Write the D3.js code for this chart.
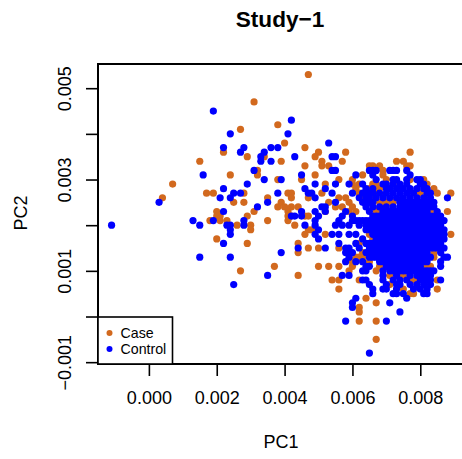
<!DOCTYPE html>
<html>
<head>
<meta charset="utf-8">
<script src="https://cdn.jsdelivr.net/npm/d3@7"></script>
<style>
  html, body { margin: 0; background: #fff; overflow: hidden; }
  text { font-family: "Liberation Sans", Arial, sans-serif; fill: #000; }
</style>
</head>
<body>
<div id="chart"></div>
<script>
// PC scores, [PC1, PC2]
const casePoints = [
  [.0047,.0053],[.0031,.0047],[.0038,.0042],[.0027,.0041],[.0022,.0036],[.0029,.0035],[.0015,.0034],[.0034,.0035],
  [.0039,.0034],[.0032,.0032],[.0032,.0031],[.0024,.0031],[.0007,.0029],[.0038,.0030],[.0017,.0027],[.0019,.0027],
  [.0028,.0027],[.0004,.0026],[.0025,.0025],[.0028,.0025],[.0035,.0026],[.0038,.0024],[.0020,.0023],[.0031,.0023],
  [.0020,.0022],[.0021,.0022],[.0029,.0022],[.0018,.0021],[.0021,.0021],[.0023,.0021],[.0035,.0021],[.0026,.0020],
  [.0030,.0020],[.0030,.0019],[.0020,.0017],[.0029,.0016],[.0027,.0010],[.0037,.0011],[.0040,.0038],[.0041,.0027],
  [.0039,.0025],[.0040,.0024],[.0041,.0023],[.0041,.0021],
  [.0046,.0037],[.0050,.0036],[.0049,.0035],[.0058,.0036],[.0051,.0034],[.0051,.0033],[.0053,.0033],[.0057,.0034],
  [.0046,.0033],[.0049,.0031],[.0045,.0030],[.0056,.0030],[.0052,.0029],[.0042,.0027],[.0042,.0026],[.0051,.0027],
  [.0047,.0026],[.0042,.0024],[.0044,.0024],[.0041,.0022],[.0042,.0022],[.0046,.0022],[.0047,.0022],[.0043,.0020],
  [.0047,.0019],[.0048,.0019],[.0053,.0025],[.0056,.0026],[.0058,.0026],[.0059,.0025],[.0055,.0024],[.0057,.0024],
  [.0052,.0023],[.0060,.0030],[.0060,.0029],[.0062,.0029],[.0061,.0028],[.0062,.0027],[.0063,.0026],[.0063,.0031],
  [.0065,.0033],[.0066,.0033],[.0068,.0033],[.0069,.0032],[.0069,.0031],[.0070,.0030],[.0072,.0029],[.0073,.0034],
  [.0075,.0034],[.0076,.0033],[.0077,.0033],[.0077,.0036],[.0081,.0030],[.0082,.0029],[.0084,.0028],[.0085,.0027],
  [.0089,.0027],[.0088,.0023],[.0089,.0018],[.0083,.0023],[.0067,.0023],[.0068,.0023],[.0068,.0028],[.0077,.0030],
  [.0080,.0027],[.0068,.0025],[.0069,.0025],[.0070,.0025],[.0071,.0025],[.0072,.0025],[.0066,.0017],[.0064,.0025],
  [.0060,.0024],[.0061,.0023],[.0059,.0023],[.0083,.0018],
  [.0046,.0018],[.0044,.0016],[.0044,.0014],[.0047,.0015],[.0050,.0015],[.0050,.0011],[.0053,.0011],[.0056,.0011],
  [.0044,.0009],[.0054,.0008],[.0056,.0008],[.0056,.0006],[.0059,.0010],[.0062,.0008],[.0064,.0004],[.0067,.0003],
  [.0062,.0002],[.0062,.0001],[.0062,-.0001],[.0067,-.0001],[.0067,-.0005],[.0085,.0006],[.0085,.0008],[.0077,.0005],
  [.0060,.0012],[.0060,.0011],[.0061,.0013],[.0062,.0013],[.0052,.0018],[.0056,.0015],[.0084,.0013],[.0084,.0014],
  [.0068,.0011],[.0067,.0010],[.0071,.0009],[.0071,.0007],[.0075,.0009],[.0078,.0008],[.0075,.0006],[.0078,.0005],
  [.0081,.0011],[.0082,.0011],[.0083,.0011],[.0062,.0016],[.0063,.0014],[.0063,.0013],[.0065,.0012],[.0065,.0018],
  [.0066,.0021],[.0067,.0027],[.0066,.0026],[.0065,.0028],[.0066,.0029],[.0067,.0029],
  [.0070,.0020],[.0072,.0015],[.0075,.0018],[.0078,.0022],[.0080,.0014],[.0074,.0012],[.0079,.0019]
];

const controlPoints = [
  [-.0011,.0020],[.0003,.0025],[.0013,.0021],[.0015,.0020],[.0015,.0013],[.0016,.0031],[.0019,.0045],[.0019,.0021],
  [.0021,.0026],[.0022,.0037],[.0022,.0028],[.0022,.0023],[.0022,.0016],[.0023,.0020],[.0024,.0040],[.0024,.0026],
  [.0024,.0020],[.0024,.0019],[.0024,.0018],[.0024,.0013],[.0025,.0027],[.0027,.0036],[.0027,.0027],[.0028,.0037],
  [.0028,.0021],[.0028,.0020],[.0029,.0029],[.0031,.0032],[.0032,.0024],[.0033,.0035],[.0033,.0034],[.0034,.0036],
  [.0034,.0030],[.0035,.0025],[.0035,.0009],[.0025,.0007],[.0036,.0037],[.0036,.0034],[.0038,.0037],[.0038,.0027],
  [.0039,.0030],[.0039,.0014],[.0041,.0040],[.0042,.0043],
  [.0053,.0038],[.0043,.0035],[.0054,.0035],[.0055,.0035],[.0054,.0032],[.0055,.0032],[.0045,.0031],[.0061,.0031],
  [.0065,.0032],[.0066,.0032],[.0067,.0032],[.0066,.0031],[.0049,.0029],[.0055,.0029],[.0059,.0029],[.0063,.0029],
  [.0052,.0028],[.0046,.0028],[.0047,.0027],[.0048,.0027],[.0049,.0026],[.0054,.0027],[.0055,.0025],[.0060,.0027],
  [.0062,.0026],[.0064,.0027],[.0045,.0023],[.0045,.0022],[.0042,.0022],[.0043,.0022],[.0049,.0023],[.0050,.0022],
  [.0049,.0021],[.0049,.0020],[.0050,.0019],[.0051,.0024],[.0052,.0024],[.0052,.0023],[.0046,.0020],[.0058,.0023],
  [.0057,.0022],[.0056,.0021],[.0055,.0020],[.0057,.0020],[.0059,.0020],[.0062,.0021],[.0062,.0020],[.0054,.0018],
  [.0056,.0018],[.0059,.0018],[.0061,.0018],[.0063,.0021],[.0064,.0020],[.0056,.0016],[.0058,.0015],[.0059,.0015],
  [.0061,.0016],[.0060,.0014],[.0062,.0015],[.0064,.0016],[.0063,.0017],[.0065,.0015],[.0065,.0019],[.0067,.0020],
  [.0049,.0018],[.0050,.0017],[.0052,.0015],[.0044,.0015],[.0058,.0014],[.0059,.0014],[.0059,.0013],[.0058,.0012],
  [.0061,.0012],[.0063,.0010],[.0064,.0010],[.0057,.0009],[.0059,.0009],[.0063,.0008],[.0064,.0008],[.0065,.0007],
  [.0066,.0006],[.0066,.0005],[.0061,.0004],[.0060,.0003],[.0060,.0002],[.0071,.0003],[.0074,.0001],[.0058,-.0001],
  [.0070,-.0001],[.0065,-.0008],[.0076,.0004],[.0072,.0005],[.0073,.0005],[.0075,.0005],[.0081,.0005],[.0082,.0005],
  [.0086,.0008],[.0084,.0010],[.0086,.0011],[.0088,.0013],[.0065,.0011],[.0064,.0011],[.0066,.0013],[.0065,.0014],
  [.0065,.0013],[.0063,.0012],
  // left side of the dense cloud
  [.0063,.0027],[.0065,.0027],[.0064,.0026],[.0063,.0025],[.0065,.0025],[.0066,.0024],[.0064,.0024],[.0065,.0023],
  [.0060,.0022],[.0061,.0021],[.0060,.0021],[.0064,.0021],[.0065,.0020],[.0066,.0019],[.0064,.0019],[.0066,.0018],
  [.0067,.0018],[.0067,.0016],[.0065,.0016],[.0066,.0015],[.0064,.0014],[.0066,.0014],
  // top of the dense cloud
  [.0071,.0032],[.0072,.0032],[.0073,.0032],[.0076,.0032],[.0077,.0031],[.0076,.0030],[.0072,.0030],[.0073,.0030],
  [.0067,.0030],[.0079,.0030],[.0080,.0030],
  [.0069,.0029],[.0070,.0029],[.0072,.0029],[.0074,.0029],[.0076,.0029],[.0080,.0029],[.0081,.0029],
  [.0064,.0028],[.0066,.0028],[.0070,.0028],[.0071,.0028],[.0073,.0028],[.0075,.0028],[.0077,.0028],[.0079,.0028],[.0081,.0028],[.0082,.0028],
  [.0066,.0027],[.0068,.0027],[.0070,.0027],[.0072,.0027],[.0074,.0027],[.0076,.0027],[.0078,.0027],[.0082,.0027],[.0083,.0027],
  [.0065,.0026],[.0067,.0026],[.0069,.0026],[.0071,.0026],[.0073,.0026],[.0075,.0026],[.0077,.0026],[.0079,.0026],[.0081,.0026],[.0083,.0026],[.0088,.0026],
  [.0066,.0025],[.0074,.0025],[.0075,.0025],[.0076,.0025],[.0077,.0025],[.0078,.0025],[.0079,.0025],[.0080,.0025],[.0081,.0025],[.0082,.0025],[.0083,.0025],[.0084,.0025],
  // body of the dense cloud
  [.0068,.0024],[.0070,.0024],[.0072,.0024],[.0074,.0024],[.0075,.0024],[.0076,.0024],[.0077,.0024],[.0078,.0024],[.0079,.0024],[.0080,.0024],[.0081,.0024],[.0082,.0024],[.0083,.0024],[.0084,.0024],
  [.0069,.0023],[.0070,.0023],[.0071,.0023],[.0072,.0023],[.0073,.0023],[.0074,.0023],[.0075,.0023],[.0076,.0023],[.0077,.0023],[.0078,.0023],[.0079,.0023],[.0080,.0023],[.0081,.0023],[.0082,.0023],[.0085,.0023],
  [.0066,.0022],[.0067,.0022],[.0068,.0022],[.0069,.0022],[.0070,.0022],[.0071,.0022],[.0072,.0022],[.0073,.0022],[.0074,.0022],[.0075,.0022],[.0076,.0022],[.0077,.0022],[.0078,.0022],[.0079,.0022],[.0080,.0022],[.0081,.0022],[.0082,.0022],[.0083,.0022],[.0084,.0022],[.0085,.0022],[.0086,.0022],
  [.0065,.0021],[.0066,.0021],[.0067,.0021],[.0068,.0021],[.0069,.0021],[.0070,.0021],[.0071,.0021],[.0072,.0021],[.0073,.0021],[.0074,.0021],[.0075,.0021],[.0076,.0021],[.0077,.0021],[.0078,.0021],[.0079,.0021],[.0080,.0021],[.0081,.0021],[.0082,.0021],[.0083,.0021],[.0084,.0021],[.0085,.0021],[.0086,.0021],[.0087,.0021],
  [.0066,.0020],[.0067,.0020],[.0068,.0020],[.0069,.0020],[.0070,.0020],[.0071,.0020],[.0072,.0020],[.0073,.0020],[.0074,.0020],[.0075,.0020],[.0076,.0020],[.0077,.0020],[.0078,.0020],[.0079,.0020],[.0080,.0020],[.0081,.0020],[.0082,.0020],[.0083,.0020],[.0084,.0020],[.0085,.0020],[.0086,.0020],
  [.0067,.0019],[.0068,.0019],[.0069,.0019],[.0070,.0019],[.0071,.0019],[.0072,.0019],[.0073,.0019],[.0074,.0019],[.0075,.0019],[.0076,.0019],[.0077,.0019],[.0078,.0019],[.0079,.0019],[.0080,.0019],[.0081,.0019],[.0082,.0019],[.0083,.0019],[.0084,.0019],[.0085,.0019],[.0086,.0019],[.0087,.0019],
  [.0068,.0018],[.0069,.0018],[.0070,.0018],[.0071,.0018],[.0072,.0018],[.0073,.0018],[.0074,.0018],[.0075,.0018],[.0076,.0018],[.0077,.0018],[.0078,.0018],[.0079,.0018],[.0080,.0018],[.0081,.0018],[.0082,.0018],[.0083,.0018],[.0084,.0018],[.0085,.0018],[.0086,.0018],[.0087,.0018],
  [.0067,.0017],[.0068,.0017],[.0069,.0017],[.0070,.0017],[.0071,.0017],[.0072,.0017],[.0073,.0017],[.0074,.0017],[.0075,.0017],[.0076,.0017],[.0077,.0017],[.0078,.0017],[.0079,.0017],[.0080,.0017],[.0081,.0017],[.0082,.0017],[.0083,.0017],[.0084,.0017],[.0085,.0017],[.0086,.0017],[.0087,.0017],
  [.0066,.0016],[.0068,.0016],[.0069,.0016],[.0070,.0016],[.0071,.0016],[.0072,.0016],[.0073,.0016],[.0074,.0016],[.0075,.0016],[.0076,.0016],[.0077,.0016],[.0078,.0016],[.0079,.0016],[.0080,.0016],[.0081,.0016],[.0082,.0016],[.0083,.0016],[.0084,.0016],[.0085,.0016],[.0086,.0016],
  [.0067,.0015],[.0068,.0015],[.0069,.0015],[.0070,.0015],[.0071,.0015],[.0072,.0015],[.0073,.0015],[.0074,.0015],[.0075,.0015],[.0076,.0015],[.0077,.0015],[.0078,.0015],[.0079,.0015],[.0080,.0015],[.0081,.0015],[.0082,.0015],[.0083,.0015],[.0084,.0015],[.0085,.0015],[.0086,.0015],[.0087,.0015],
  [.0067,.0014],[.0068,.0014],[.0069,.0014],[.0070,.0014],[.0071,.0014],[.0072,.0014],[.0073,.0014],[.0074,.0014],[.0075,.0014],[.0076,.0014],[.0077,.0014],[.0078,.0014],[.0079,.0014],[.0080,.0014],[.0081,.0014],[.0082,.0014],[.0086,.0014],
  [.0067,.0013],[.0068,.0013],[.0069,.0013],[.0070,.0013],[.0071,.0013],[.0072,.0013],[.0073,.0013],[.0074,.0013],[.0075,.0013],[.0076,.0013],[.0077,.0013],[.0078,.0013],[.0079,.0013],[.0080,.0013],[.0081,.0013],[.0082,.0013],[.0083,.0013],[.0087,.0013],
  [.0068,.0012],[.0069,.0012],[.0070,.0012],[.0071,.0012],[.0072,.0012],[.0073,.0012],[.0074,.0012],[.0075,.0012],[.0076,.0012],[.0077,.0012],[.0078,.0012],[.0079,.0012],[.0080,.0012],[.0081,.0012],[.0082,.0012],[.0086,.0012],
  [.0070,.0011],[.0071,.0011],[.0072,.0011],[.0073,.0011],[.0074,.0011],[.0075,.0011],[.0076,.0011],[.0077,.0011],[.0078,.0011],[.0079,.0011],[.0080,.0011],
  [.0069,.0010],[.0071,.0010],[.0072,.0010],[.0073,.0010],[.0074,.0010],[.0075,.0010],[.0076,.0010],[.0077,.0010],[.0078,.0010],[.0079,.0010],[.0080,.0010],[.0081,.0010],[.0082,.0010],[.0083,.0010],
  [.0069,.0009],[.0073,.0009],[.0077,.0009],[.0079,.0009],[.0080,.0009],[.0081,.0009],[.0082,.0009],[.0083,.0009],
  [.0069,.0008],[.0072,.0008],[.0074,.0008],[.0076,.0008],[.0080,.0008],[.0081,.0008],[.0082,.0008],[.0083,.0008],
  [.0070,.0007],[.0073,.0007],[.0074,.0007],[.0077,.0007],[.0079,.0007],[.0081,.0007],[.0083,.0007],
  [.0069,.0006],[.0070,.0006],[.0073,.0006],[.0078,.0006],[.0080,.0006],[.0082,.0006]
];

const xTicks = [0, .002, .004, .006, .008];
const yTicks = [-.001, 0, .001, .002, .003, .004, .005];
const yLabels = [-.001, .001, .003, .005];
const legendLabels = ["Case", "Control"];
const caseColor = "#d2691e";
const controlColor = "#0000ff";

const width = 462;
const height = 459;

const svg = d3.select("#chart").append("svg")
  .attr("width", width)
  .attr("height", height)
  .style("display", "block");

// Scales
const x = d3.scaleLinear().domain([-.0015, .0092]).range([98, 461]);
const y = d3.scaleLinear().domain([-.00104, .00553]).range([364, 64]);

// Points, controls drawn over cases
svg.append("g").selectAll("circle")
  .data(casePoints)
  .join("circle")
  .attr("cx", d => x(d[0]))
  .attr("cy", d => y(d[1]))
  .attr("r", 3.6)
  .attr("fill", caseColor);

svg.append("g").selectAll("circle")
  .data(controlPoints)
  .join("circle")
  .attr("cx", d => x(d[0]))
  .attr("cy", d => y(d[1]))
  .attr("r", 3.6)
  .attr("fill", controlColor);

// Axes
const fmt = d => d3.format(".3f")(d).replace("-", "\u2212");

const xAxis = svg.append("g")
  .attr("transform", "translate(0,364)")
  .call(d3.axisBottom(x).tickValues(xTicks).tickSize(12).tickFormat(fmt));
xAxis.select(".domain").remove();
xAxis.selectAll("line").attr("stroke", "#000").attr("stroke-width", 1.6);
xAxis.selectAll("text")
  .attr("y", 27)
  .attr("dy", "0.71em")
  .style("font-size", "18px");

const yAxis = svg.append("g")
  .attr("transform", "translate(98,0)")
  .call(d3.axisLeft(y).tickValues(yTicks).tickSize(12)
    .tickFormat(d => yLabels.some(v => Math.abs(v - d) < 1e-9) ? fmt(d) : ""));
yAxis.select(".domain").remove();
yAxis.selectAll("line").attr("stroke", "#000").attr("stroke-width", 1.6);
yAxis.selectAll("text")
  .attr("x", null)
  .attr("dy", null)
  .attr("text-anchor", "middle")
  .attr("transform", "translate(-27,0) rotate(-90)")
  .style("font-size", "18px");

// Plot box, its right edge falls outside the picture
svg.append("rect")
  .attr("x", 98)
  .attr("y", 64)
  .attr("width", 370)
  .attr("height", 300)
  .attr("fill", "none")
  .attr("stroke", "#000")
  .attr("stroke-width", 2);

// Titles
svg.append("text")
  .attr("x", 280)
  .attr("y", 27)
  .attr("text-anchor", "middle")
  .style("font-size", "22.6px")
  .style("font-weight", "bold")
  .text("Study\u22121");

svg.append("text")
  .attr("x", 281)
  .attr("y", 448)
  .attr("text-anchor", "middle")
  .style("font-size", "18px")
  .text("PC1");

svg.append("text")
  .attr("text-anchor", "middle")
  .attr("transform", "translate(27,213) rotate(-90)")
  .style("font-size", "18px")
  .text("PC2");

// Legend
const legend = svg.append("g");
legend.append("rect")
  .attr("x", 98)
  .attr("y", 317)
  .attr("width", 74.5)
  .attr("height", 47)
  .attr("fill", "#fff")
  .attr("stroke", "#000")
  .attr("stroke-width", 1.6);

legendLabels.forEach((label, i) => {
  legend.append("circle")
    .attr("cx", 109.5)
    .attr("cy", 333 + i * 16)
    .attr("r", 3)
    .attr("fill", i == 0 ? caseColor : controlColor);
  legend.append("text")
    .attr("x", 120.5)
    .attr("y", 338 + i * 16)
    .style("font-size", "14.2px")
    .text(label);
});
</script>
</body>
</html>
